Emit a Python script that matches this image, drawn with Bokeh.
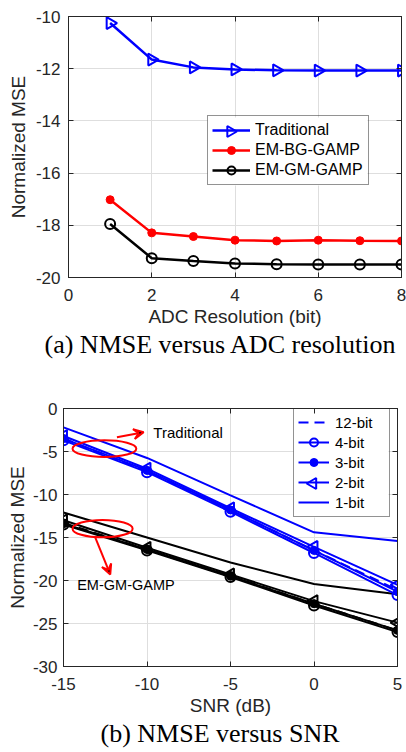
import numpy as np
from bokeh.plotting import figure
from bokeh.layouts import column, row
from bokeh.models import (Legend, LegendItem, LinearAxis, Title, Range1d,
                          FixedTicker, Arrow, VeeHead, Label)
from bokeh.embed import file_html
from bokeh.resources import INLINE

# ---- (a) NMSE versus ADC resolution ----
bits = [1, 2, 3, 4, 5, 6, 7, 8]
nmse_traditional = [-10.25, -11.65, -11.95, -12.03, -12.06, -12.07, -12.07, -12.07]
nmse_em_bg_gamp = [-17.02, -18.29, -18.43, -18.57, -18.60, -18.57, -18.59, -18.60]
nmse_em_gm_gamp = [-17.95, -19.26, -19.37, -19.46, -19.49, -19.50, -19.50, -19.50]
bits_ticks = [0, 2, 4, 6, 8]
nmse_a_ticks = [-20, -18, -16, -14, -12, -10]

# ---- (b) NMSE versus SNR ----
snr_db = [-15, -10, -5, 0, 5]
trad_12bit = [-3.5, -7.3, -11.8, -16.5, -21.1]
trad_4bit = [-3.7, -7.4, -12.0, -16.8, -21.7]
trad_3bit = [-3.5, -7.2, -11.8, -16.5, -21.3]
trad_2bit = [-3.2, -7.0, -11.6, -16.1, -20.5]
trad_1bit = [-2.2, -5.75, -10.1, -14.4, -15.4]
gm_12bit = [-13.3, -16.4, -19.5, -22.7, -25.8]
gm_4bit = [-13.5, -16.5, -19.6, -22.9, -26.0]
gm_3bit = [-13.4, -16.4, -19.5, -22.7, -25.8]
gm_2bit = [-13.0, -16.2, -19.3, -22.4, -24.9]
gm_1bit = [-12.1, -15.0, -17.9, -20.4, -21.6]
snr_ticks = [-15, -10, -5, 0, 5]
nmse_b_ticks = [-30, -25, -20, -15, -10, -5, 0]

SANS = "Liberation Sans"
SERIF = "Liberation Serif"
AX_COLOR = "#262626"
GRID_COLOR = "#dedede"

W, H = 406, 376
ROW_H, PAD = 20, 4


def style(p, xticks, yticks, xlabel, ylabel, y_standoff=8):
    p.xaxis.ticker = FixedTicker(ticks=xticks)
    p.yaxis.ticker = FixedTicker(ticks=yticks)
    # plain hyphen-minus tick labels
    p.xaxis.major_label_overrides = {t: str(t) for t in xticks}
    p.yaxis.major_label_overrides = {t: str(t) for t in yticks}
    p.xaxis.axis_label = xlabel
    p.yaxis.axis_label = ylabel
    for ax in p.xaxis + p.yaxis:
        ax.axis_line_color = AX_COLOR
        ax.major_tick_line_color = AX_COLOR
        ax.major_tick_in = 5
        ax.major_tick_out = 0
        ax.minor_tick_line_color = None
        ax.major_label_text_font = SANS
        ax.major_label_text_font_size = "17px"
        ax.major_label_text_color = AX_COLOR
        ax.axis_label_text_font = SANS
        ax.axis_label_text_font_size = "19px"
        ax.axis_label_text_font_style = "normal"
        ax.axis_label_text_color = AX_COLOR
    p.xaxis.major_label_standoff = 11
    p.xaxis.axis_label_standoff = 2
    p.yaxis.major_label_standoff = y_standoff
    p.yaxis.axis_label_standoff = 4
    # box ticks on the top and right edges (no labels)
    for side, ticks in (("right", yticks), ("above", xticks)):
        ax = LinearAxis(ticker=FixedTicker(ticks=ticks), major_label_text_font_size="1px",
                        major_label_text_color=None, major_label_standoff=0,
                        axis_line_color=AX_COLOR, major_tick_line_color=AX_COLOR,
                        major_tick_in=5, major_tick_out=0, minor_tick_line_color=None)
        p.add_layout(ax, side)
    p.grid.grid_line_color = GRID_COLOR
    p.grid.grid_line_width = 1
    p.outline_line_color = AX_COLOR
    p.background_fill_color = "white"
    p.border_fill_color = "white"


def to_data(p, sx, sy, border):
    """Frame pixel offsets (from bottom-left) to data coordinates."""
    fw = W - border["left"] - border["right"]
    fh = H - border["top"] - border["bottom"]
    xr, yr = p.x_range, p.y_range
    return (xr.start + sx / fw * (xr.end - xr.start),
            yr.start + sy / fh * (yr.end - yr.start))


def add_legend(p, items, loc, width, font_size, glyph_w, standoff, border):
    n = len(items)
    leg_h = 2 * PAD + n * ROW_H
    # opaque backing drawn as a glyph so that rotated markers can sit on top of it
    x0, y0 = to_data(p, loc[0], loc[1], border)
    x1, y1 = to_data(p, loc[0] + width, loc[1] + leg_h, border)
    p.quad(left=[x0], right=[x1], bottom=[y0], top=[y1], fill_color="white", line_color=None)
    p.add_layout(Legend(items=items, location=loc, label_text_font=SANS,
                        label_text_font_size=font_size, label_text_color="black",
                        glyph_width=glyph_w, glyph_height=ROW_H, label_height=ROW_H,
                        label_width=width - 2 * PAD - glyph_w - standoff,
                        spacing=0, padding=PAD, margin=0, label_standoff=standoff,
                        border_line_color=AX_COLOR, border_line_width=1,
                        background_fill_alpha=0))

    def slot(r):
        sx = loc[0] + PAD + glyph_w / 2
        sy = loc[1] + leg_h - PAD - r * ROW_H - ROW_H / 2
        return to_data(p, sx, sy, border)
    return slot


def make_figure(xr, yr, border):
    return figure(width=W, height=H, output_backend="svg", toolbar_location=None,
                  x_range=Range1d(*xr), y_range=Range1d(*yr),
                  min_border_left=border["left"], min_border_right=border["right"],
                  min_border_top=border["top"], min_border_bottom=border["bottom"])


# ---------------- figure (a) ----------------
A_BORDER = dict(left=68, right=5, top=16, bottom=99)
pa = make_figure((0, 8), (-20, -10), A_BORDER)
style(pa, bits_ticks, nmse_a_ticks, "ADC Resolution (bit)", "Normalized MSE")

r_tl = pa.line(bits, nmse_traditional, line_color="blue", line_width=2.5)
pa.scatter(bits, nmse_traditional, marker="triangle", angle=-np.pi / 2, size=12,
           line_color="blue", line_width=2, fill_alpha=0)
r_bl = pa.line(bits, nmse_em_bg_gamp, line_color="red", line_width=2.5)
r_bs = pa.scatter(bits, nmse_em_bg_gamp, marker="circle", size=8,
                  line_color="red", fill_color="red")
r_gl = pa.line(bits, nmse_em_gm_gamp, line_color="black", line_width=2.5)
r_gs = pa.scatter(bits, nmse_em_gm_gamp, marker="circle", size=10,
                  line_color="black", line_width=2, fill_alpha=0)

GLYPH_A = 38
slot_a = add_legend(pa, [
    LegendItem(label="Traditional", renderers=[r_tl]),
    LegendItem(label="EM-BG-GAMP", renderers=[r_bl, r_bs]),
    LegendItem(label="EM-GM-GAMP", renderers=[r_gl, r_gs]),
], (139, 92), 160, "16px", GLYPH_A, 5, A_BORDER)
# legend glyphs are never rotated, so the right-pointing triangle is placed by hand
lx, ly = slot_a(0)
pa.scatter([lx], [ly], marker="triangle", angle=-np.pi / 2, size=11,
           line_color="blue", line_width=2, fill_alpha=0)

# caption
pa.add_layout(Title(text="(a) NMSE versus ADC resolution", align="left",
                    text_font=SERIF, text_font_size="26px", text_font_style="normal",
                    text_color="black", offset=-24, standoff=0, vertical_align="top"),
              "below")

# ---------------- figure (b) ----------------
B_BORDER = dict(left=63, right=9, top=32, bottom=86)
pb = make_figure((-15, 5), (-30, 0), B_BORDER)
style(pb, snr_ticks, nmse_b_ticks, "SNR (dB)", "Normalized MSE", y_standoff=6)
pb.yaxis.axis_label_standoff = 2


def series(p, y, color, kind, lw=2):
    dash = "10 6" if kind == "12" else "solid"
    rl = p.line(snr_db, y, line_color=color, line_width=lw, line_dash=dash)
    rs = None
    if kind == "4":
        rs = p.scatter(snr_db, y, marker="circle", size=10, line_color=color,
                       line_width=2, fill_alpha=0)
    elif kind == "3":
        rs = p.scatter(snr_db, y, marker="circle", size=8, line_color=color,
                       fill_color=color)
    elif kind == "2":
        p.scatter(snr_db, y, marker="triangle", angle=np.pi / 2, size=12,
                  line_color=color, line_width=2, fill_alpha=0)
    return [rl] + ([rs] if rs is not None else [])


for y, k in ((gm_1bit, "1"), (gm_2bit, "2"), (gm_3bit, "3"), (gm_4bit, "4"), (gm_12bit, "12")):
    series(pb, y, "black", k)

legend_b = []
for y, k, name in ((trad_1bit, "1", "1-bit"), (trad_2bit, "2", "2-bit"),
                   (trad_3bit, "3", "3-bit"), (trad_4bit, "4", "4-bit"),
                   (trad_12bit, "12", "12-bit")):
    legend_b.append(LegendItem(label=name, renderers=series(pb, y, "blue", k)))
legend_b.reverse()

GLYPH_B = 31
slot_b = add_legend(pb, legend_b, (230, 149), 95, "15px", GLYPH_B, 6, B_BORDER)
lx, ly = slot_b(3)
pb.scatter([lx], [ly], marker="triangle", angle=np.pi / 2, size=11,
           line_color="blue", line_width=2, fill_alpha=0)

# annotations marking the two groups of curves
pb.ellipse(x=[-12.55], y=[-4.67], width=3.82, height=1.95, fill_alpha=0,
           line_color="red", line_width=2)
pb.ellipse(x=[-12.66], y=[-13.97], width=3.6, height=2.02, fill_alpha=0,
           line_color="red", line_width=2)
pb.add_layout(Arrow(x_start=-11.8, y_start=-3.35, x_end=-10.2, y_end=-2.75,
                    line_color="red", line_width=2,
                    end=VeeHead(size=10, line_color="red", line_width=2)))
pb.add_layout(Arrow(x_start=-13.1, y_start=-14.98, x_end=-12.2, y_end=-19.3,
                    line_color="red", line_width=2,
                    end=VeeHead(size=10, line_color="red", line_width=2)))
pb.add_layout(Label(x=-9.62, y=-2.77, text="Traditional", text_font=SANS,
                    text_font_size="15px", text_baseline="middle", text_color="black"))
pb.add_layout(Label(x=-14.18, y=-20.5, text="EM-GM-GAMP", text_font=SANS,
                    text_font_size="14.5px", text_baseline="middle", text_color="black"))

pb.add_layout(Title(text="(b) NMSE versus SNR", align="left",
                    text_font=SERIF, text_font_size="26px", text_font_style="normal",
                    text_color="black", offset=37, standoff=0, vertical_align="top"),
              "below")

# each panel in its own row so the two frames are laid out independently
p = column(row(pa), row(pb), spacing=0)
open("out.html", "w").write(file_html(p, INLINE))
